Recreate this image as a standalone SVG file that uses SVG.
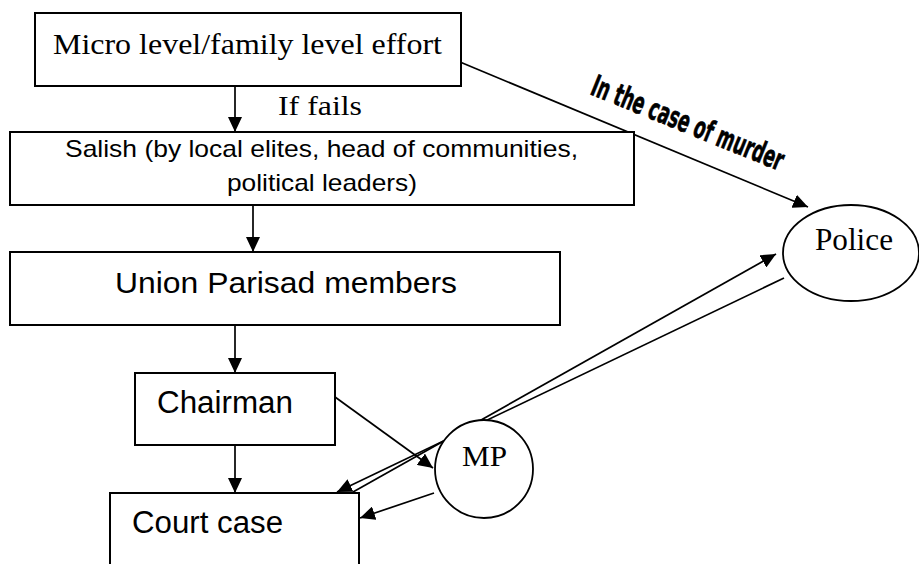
<svg xmlns="http://www.w3.org/2000/svg" width="919" height="564" viewBox="0 0 919 564">
<defs>
<marker id="ah" markerUnits="userSpaceOnUse" markerWidth="16" markerHeight="14" refX="15" refY="7" orient="auto">
<path d="M0,0 L15,7 L0,14 z" fill="#000"/>
</marker>
<style>
.box{fill:#fff;stroke:#000;stroke-width:2}
.ell{fill:#fff;stroke:#000;stroke-width:1.8}
.ln{fill:none;stroke:#000;stroke-width:1.7;marker-end:url(#ah)}
.serif{font-family:"Liberation Serif","Times New Roman",serif;fill:#000}
.sans{font-family:"Liberation Sans",Arial,sans-serif;fill:#000}
.word{font-family:"DejaVu Sans Condensed","Liberation Sans Narrow","Liberation Sans",sans-serif;font-weight:bold;fill:#000;stroke:#000;stroke-width:0.4}
</style>
</defs>
<rect width="919" height="564" fill="#fff"/>
<g id="connectors">
<line class="ln" x1="235" y1="86" x2="235" y2="132"/>
<line class="ln" x1="253" y1="205" x2="253" y2="252"/>
<line class="ln" x1="235" y1="325" x2="235" y2="373"/>
<line class="ln" x1="235" y1="445" x2="235" y2="493"/>
<line class="ln" x1="460" y1="62" x2="808" y2="207"/>
<line class="ln" x1="335" y1="397" x2="433" y2="468"/>
<line class="ln" x1="434" y1="493" x2="360" y2="518"/>
<line class="ln" x1="784" y1="278" x2="337" y2="492"/>
<line class="ln" x1="353" y1="492" x2="776" y2="254"/>
</g>
<g id="label-murder">
<text class="word" transform="translate(589,94) rotate(22) scale(1,1.5)" font-size="20" textLength="205" lengthAdjust="spacingAndGlyphs">In the case of murder</text>
</g>
<g id="label-iffails">
<text class="serif" x="278" y="115" font-size="28" textLength="84" lengthAdjust="spacingAndGlyphs">If fails</text>
</g>
<g id="node-micro">
<rect class="box" x="35" y="13" width="426" height="73"/>
<text class="serif" x="53" y="54" font-size="30" textLength="389" lengthAdjust="spacingAndGlyphs">Micro level/family level effort</text>
</g>
<g id="node-salish">
<rect class="box" x="10" y="132" width="624" height="73"/>
<text class="sans" x="65" y="157" font-size="24" textLength="513" lengthAdjust="spacingAndGlyphs">Salish (by local elites, head of communities,</text>
<text class="sans" x="227" y="191" font-size="24" textLength="190" lengthAdjust="spacingAndGlyphs">political leaders)</text>
</g>
<g id="node-union">
<rect class="box" x="10" y="252" width="550" height="73"/>
<text class="sans" x="115" y="293" font-size="30" textLength="342" lengthAdjust="spacingAndGlyphs">Union Parisad members</text>
</g>
<g id="node-chairman">
<rect class="box" x="135" y="373" width="200" height="72"/>
<text class="sans" x="157" y="413" font-size="31" textLength="136" lengthAdjust="spacingAndGlyphs">Chairman</text>
</g>
<g id="node-court">
<rect class="box" x="110" y="493" width="249" height="100"/>
<text class="sans" x="132" y="533" font-size="31" textLength="151" lengthAdjust="spacingAndGlyphs">Court case</text>
</g>
<g id="node-mp">
<circle class="ell" cx="484" cy="469" r="49"/>
<text class="serif" x="462" y="466" font-size="30" textLength="45" lengthAdjust="spacingAndGlyphs">MP</text>
</g>
<g id="node-police">
<ellipse class="ell" cx="851" cy="253" rx="68" ry="48"/>
<text class="serif" x="815" y="250" font-size="31" textLength="78" lengthAdjust="spacingAndGlyphs">Police</text>
</g>
</svg>
